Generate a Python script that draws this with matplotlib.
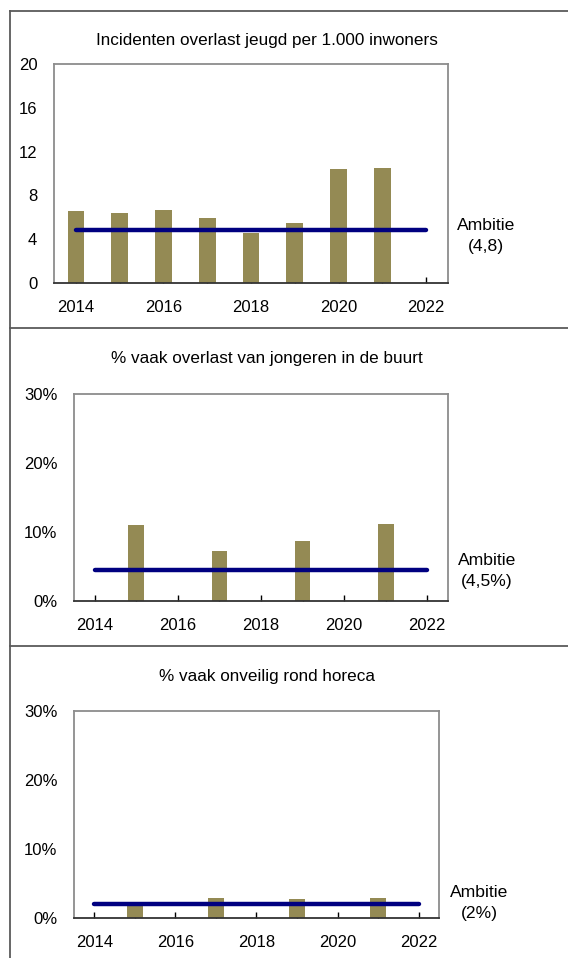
import numpy as np
import matplotlib.pyplot as plt
from matplotlib.lines import Line2D

plt.rcParams['font.family'] = ['Liberation Sans', 'DejaVu Sans']

years = np.arange(2014, 2023)

# incidenten overlast jeugd per 1.000 inwoners
incidenten = [6.6, 6.4, 6.7, 5.9, 4.6, 5.5, 10.4, 10.5, np.nan]
# % vaak overlast van jongeren in de buurt
overlast_jongeren = [np.nan, 11.0, np.nan, 7.3, np.nan, 8.7, np.nan, 11.1, np.nan]
# % vaak onveilig rond horeca
onveilig_horeca = [np.nan, 1.8, np.nan, 2.9, np.nan, 2.7, np.nan, 2.9, np.nan]

ambitie = [4.8, 4.5, 2.0]
ambitie_labels = ['Ambitie\n(4,8)', 'Ambitie\n(4,5%)', 'Ambitie\n(2%)']
titles = ['Incidenten overlast jeugd per 1.000 inwoners',
          '% vaak overlast van jongeren in de buurt',
          '% vaak onveilig rond horeca']

W, H = 568, 958
fig = plt.figure(figsize=(W / 100, H / 100), dpi=100)

def px_axes(left, top, right, bottom):
    return fig.add_axes([left / W, 1 - bottom / H, (right - left) / W, (bottom - top) / H])

bar_color = '#948A54'
line_color = '#000080'

panels = [
    dict(box=(54, 64, 448, 283), values=incidenten, ylim=20, yticks=[0, 4, 8, 12, 16, 20],
         fmt='{:g}', title_y=40, amb_xy=(486, 236)),
    dict(box=(74, 394, 448, 601), values=overlast_jongeren, ylim=30, yticks=[0, 10, 20, 30],
         fmt='{:g}%', title_y=358, amb_xy=(487, 571)),
    dict(box=(74, 711, 439, 918), values=onveilig_horeca, ylim=30, yticks=[0, 10, 20, 30],
         fmt='{:g}%', title_y=676, amb_xy=(479, 903)),
]

for i, p in enumerate(panels):
    ax = px_axes(*p['box'])
    ax.bar(years, p['values'], width=0.38, color=bar_color, zorder=2)
    ax.plot([years[0], years[-1]], [ambitie[i], ambitie[i]], color=line_color,
            linewidth=3.2, solid_capstyle='round', zorder=3)
    ax.set_xlim(2013.5, 2022.5)
    ax.set_ylim(0, p['ylim'])
    ax.set_yticks(p['yticks'])
    ax.set_yticklabels([p['fmt'].format(v) for v in p['yticks']], fontsize=12)
    ax.set_xticks(years[::2])
    ax.set_xticks(years[1::2], minor=True)
    ax.set_xticklabels([str(y) for y in years[::2]], fontsize=12)
    ax.tick_params(axis='y', length=0, pad=12)
    ax.tick_params(axis='x', which='both', direction='in', length=4, width=1, pad=12)
    for s in ['top', 'right', 'left']:
        ax.spines[s].set_color('#8c8c8c')
        ax.spines[s].set_linewidth(1.3)
    ax.spines['bottom'].set_color('#333333')
    ax.spines['bottom'].set_linewidth(1.3)
    fig.text(267 / W, 1 - p['title_y'] / H, titles[i], ha='center', va='center', fontsize=12.3)
    ax_x, ax_y = p['amb_xy']
    fig.text(ax_x / W, 1 - ax_y / H, ambitie_labels[i], ha='center', va='center',
             fontsize=12.6, linespacing=1.55)

# panel borders
border = '#5a5a5a'
for y in [11, 328, 646]:
    fig.add_artist(Line2D([10 / W, 1], [1 - y / H, 1 - y / H], color=border, linewidth=1.3))
fig.add_artist(Line2D([10 / W, 10 / W], [0, 1 - 11 / H], color=border, linewidth=1.3))

fig.savefig('out.png', dpi=100)
